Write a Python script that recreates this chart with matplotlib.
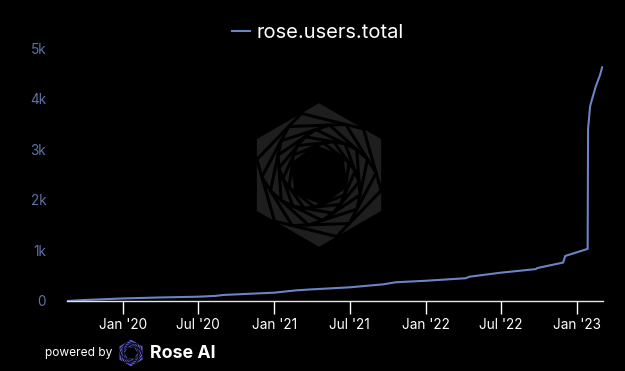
import numpy as np
import pandas as pd
import matplotlib
matplotlib.use('Agg')
import matplotlib.pyplot as plt
import matplotlib.dates as mdates
from matplotlib.patches import Polygon

plt.rcParams['font.family'] = ['Inter', 'DejaVu Sans']

# data
dates = ['2019-08-20', '2019-10-01', '2020-01-01', '2020-04-01', '2020-07-01',
         '2020-08-10', '2020-09-01', '2021-01-01', '2021-02-22', '2021-04-01',
         '2021-07-01', '2021-09-21', '2021-10-20', '2022-01-01', '2022-04-07',
         '2022-04-16', '2022-07-01', '2022-09-23', '2022-09-26', '2022-11-28',
         '2022-12-03', '2023-01-26', '2023-01-27', '2023-02-01', '2023-02-05',
         '2023-02-15', '2023-02-25', '2023-03-02']
users = [0, 20, 50, 70, 85,
         100, 120, 165, 210, 230,
         270, 330, 370, 400, 450,
         480, 560, 630, 650, 760,
         890, 1030, 3400, 3850, 3970,
         4250, 4470, 4620]
yticks = [0, 1000, 2000, 3000, 4000, 5000]
ylabels = ['0', '1k', '2k', '3k', '4k', '5k']

W, H = 625, 371
fig = plt.figure(figsize=(W/100, H/100), dpi=100, facecolor='black')

def hexagon(cx, cy, r, rot):
    a = np.radians(90 + rot + np.arange(6)*60)
    return np.column_stack([cx + r*np.cos(a), cy + r*np.sin(a)])

# watermark logo behind the plot
lx, ly, lr = 319, 175, 74
logo = fig.add_axes([(lx-lr)/W, 1-(ly+lr)/H, 2*lr/W, 2*lr/H])
logo.set_xlim(-1, 1); logo.set_ylim(-1, 1); logo.axis('off')
logo.add_patch(Polygon(hexagon(0, 0, 0.97, 0), closed=True, fc='#1e1e1e', ec='none'))
r, rot = 0.97, 0
for i in range(8):
    r = r*np.cos(np.radians(30))/np.cos(np.radians(30-16))
    rot += 16
    logo.add_patch(Polygon(hexagon(0, 0, r, rot), closed=True, fc='none', ec='black', lw=2.2))
logo.add_patch(Polygon(hexagon(0, 0, r, rot), closed=True, fc='black', ec='black'))

ax = fig.add_axes([67/W, (H-301)/H, (603-67)/W, 253/H])
ax.set_facecolor('none')
x = pd.to_datetime(dates)
ax.plot(x, users, color='#6a84c6', lw=1.5, label='rose.users.total')
ax.set_xlim(x[0], x[-1] + pd.Timedelta(days=2))
ax.set_ylim(0, 5000)

ax.xaxis.set_major_locator(mdates.MonthLocator(bymonth=[1, 7]))
ax.xaxis.set_major_formatter(mdates.DateFormatter("%b '%y"))
ax.tick_params(axis='x', colors='white', labelcolor='white', labelsize=9.8, length=9, width=1, pad=3)
ax.set_yticks(yticks)
ax.set_yticklabels(ylabels)
ax.tick_params(axis='y', length=0, labelcolor='#5f71a6', labelsize=9.8, pad=15)
for s in ['top', 'right', 'left']:
    ax.spines[s].set_visible(False)
ax.spines['bottom'].set_color('#e6e6e6')
ax.spines['bottom'].set_linewidth(1)

leg = fig.legend(loc='center', bbox_to_anchor=(318/W, 1-33/H), frameon=False,
                 fontsize=14.5, handlelength=0.9, handletextpad=0.35, labelcolor='white')

# footer
fig.text(45/W, 1-353/H, 'powered by', color='white', fontsize=8.6, va='center')
bl = fig.add_axes([117/W, 1-367/H, 28/W, 28/H])
bl.set_xlim(-1, 1); bl.set_ylim(-1, 1); bl.axis('off')
bl.add_patch(Polygon(hexagon(0, 0, 0.95, 0), closed=True, fc='#6a4fd8', ec='none'))
rr, rt = 0.95, 0
cols = ['#5a7fe0', '#7b4ee0', '#4f8ee6', '#8a52e6', '#3d5ec8']
for i in range(5):
    rr = rr*np.cos(np.radians(30))/np.cos(np.radians(30-15))
    rt += 15
    bl.add_patch(Polygon(hexagon(0, 0, rr, rt), closed=True, fc=cols[i], ec='black', lw=0.6))
bl.add_patch(Polygon(hexagon(0, 0, rr*0.85, rt+15), closed=True, fc='black', ec='none'))
fig.text(150/W, 1-353/H, 'Rose AI', color='white', fontsize=12.8, fontweight='bold', va='center')

fig.savefig('out.png', dpi=100, facecolor='black')
